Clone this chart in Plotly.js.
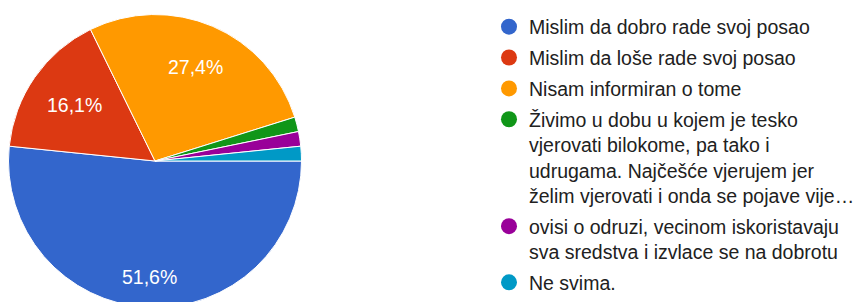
<!DOCTYPE html>
<html>
<head>
<meta charset="utf-8">
<script src="https://cdn.plot.ly/plotly-3.0.1.min.js"></script>
<style>
html,body{margin:0;padding:0;background:#fff;overflow:hidden;width:855px;height:302px;}
#chart{width:880px;height:310px;}
</style>
</head>
<body>
<div id="chart"></div>
<script>
const categories = [
  "Mislim da dobro rade svoj posao",
  "Mislim da loše rade svoj posao",
  "Nisam informiran o tome",
  "Živimo u dobu u kojem je tesko<br>vjerovati bilokome, pa tako i<br>udrugama. Najčešće vjerujem jer<br>želim vjerovati i onda se pojave vije…",
  "ovisi o odruzi, vecinom iskoristavaju<br>sva sredstva i izvlace se na dobrotu",
  "Ne svima."
];
const counts = [32, 10, 17, 1, 1, 1];
const colors = ["#3366cc", "#dc3912", "#ff9900", "#109618", "#990099", "#0099c6"];

// style: radial position of each slice label (fraction of radius)
const labelRadius = [0.79, 0.67, 0.70, 0, 0, 0];

const W = 880, H = 310;
const cx = 155, cy = 161, R = 146.5;
const FONT = 'Liberation Sans, Arial, sans-serif';

const total = counts.reduce((a, b) => a + b, 0);

const pie = {
  type: 'pie',
  labels: categories,
  values: counts,
  textinfo: 'none',
  sort: false,
  direction: 'clockwise',
  rotation: 90,
  marker: {colors: colors, line: {color: '#ffffff', width: 1}},
  showlegend: false,
  hoverinfo: 'none',
  domain: {x: [(cx - R) / W, (cx + R) / W], y: [(H - (cy + R)) / H, (H - (cy - R)) / H]}
};

// slice labels placed at each slice's mid angle (clockwise from 3 o'clock)
const annotations = [];
let cum = 0;
counts.forEach((v, i) => {
  const frac = v / total;
  const mid = (cum + frac / 2) * 2 * Math.PI;
  cum += frac;
  if (frac < 0.05) return;
  const r = labelRadius[i] * R;
  const px = cx + r * Math.cos(mid);
  const py = cy + r * Math.sin(mid);
  annotations.push({
    xref: 'paper', yref: 'paper',
    x: px / W, y: 1 - py / H,
    xanchor: 'center', yanchor: 'middle',
    showarrow: false,
    text: (frac * 100).toFixed(1).replace('.', ',') + '%',
    font: {family: FONT, size: 19.5, color: '#ffffff'}
  });
});

const legendTraces = categories.map((c, i) => ({
  type: 'scatter',
  mode: 'markers',
  x: [null], y: [null],
  name: c,
  legendgroup: 'g' + i,
  marker: {color: colors[i], size: 18, symbol: 'circle'},
  showlegend: true,
  hoverinfo: 'none'
}));

const layout = {
  width: W, height: H,
  margin: {l: 0, r: 0, t: 0, b: 0},
  paper_bgcolor: '#ffffff',
  plot_bgcolor: '#ffffff',
  xaxis: {visible: false},
  yaxis: {visible: false},
  showlegend: true,
  annotations: annotations,
  legend: {
    x: 489 / W, xanchor: 'left',
    y: 1 - 7.5 / H, yanchor: 'top',
    valign: 'top',
    font: {family: FONT, size: 19.5, color: '#212121'},
    tracegroupgap: 2.5,
    bgcolor: 'rgba(0,0,0,0)',
    itemclick: false
  }
};

Plotly.newPlot('chart', [pie].concat(legendTraces), layout, {staticPlot: true, displayModeBar: false});
</script>
</body>
</html>
